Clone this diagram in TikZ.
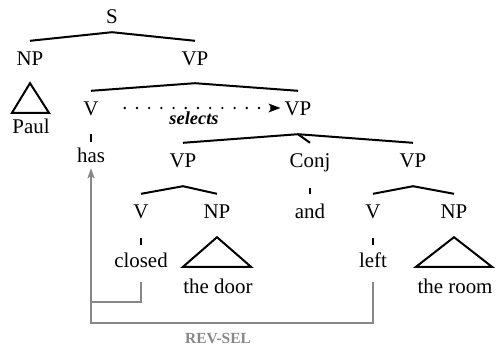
\documentclass[tikz,border=0pt]{standalone}
\usepackage{fontspec}
\setmainfont{Liberation Serif}
\usetikzlibrary{arrows.meta,calc}
\definecolor{selgray}{RGB}{135,135,135}
\tikzset{
  lab/.style={inner sep=0pt, text height=14bp, text depth=4bp, anchor=base, font=\fontsize{21}{25}\selectfont},
  branch/.style={line width=2bp, line join=miter},
  tick/.style={line width=2bp},
  tri/.style={line width=2bp, line join=miter},
  selarrow/.style={draw=selgray, line width=2bp, line join=miter},
  dotarrow/.style={line width=2.6bp, line cap=round, dash pattern=on 0bp off 12.2bp, -{Stealth[length=12bp,width=9bp,inset=3bp,line width=0pt]}}
}
\begin{document}
\begin{tikzpicture}[x=1bp,y=-1bp]
\useasboundingbox (0,0) rectangle (500,350);
% nodes
\node[lab] (S) at (112,23) {S};
\node[lab] (NP1) at (30,65) {NP};
\node[lab] (VP1) at (195,65) {VP};
\node[lab] (Paul) at (31,133) {Paul};
\node[lab] (V1) at (91,115) {V};
\node[lab] (VP2) at (298,115) {VP};
\node[lab] (has) at (91,162) {has};
\node[lab] (VP3) at (183,167) {VP};
\node[lab] (Conj) at (310,167) {Conj};
\node[lab] (VP4) at (413,167) {VP};
\node[lab] (V3) at (141,218) {V};
\node[lab] (NP3) at (217,218) {NP};
\node[lab] (and) at (310,218) {and};
\node[lab] (V4) at (373,218) {V};
\node[lab] (NP4) at (454,218) {NP};
\node[lab] (closed) at (141,267) {closed};
\node[lab] (door) at (218,293) {the door};
\node[lab] (left) at (373,267) {left};
\node[lab] (room) at (455,293) {the room};
\node[inner sep=0pt, anchor=base, font=\fontsize{18.5}{22}\selectfont\bfseries\itshape] (selects) at (194,124) {selects};
\node[inner sep=0pt, anchor=base, text=selgray, font=\fontsize{15.5}{18}\selectfont\bfseries] (revsel) at (218,343) {REV-SEL};
% apex coordinates
\coordinate (Sa) at ([yshift=-5bp]S.south);
\coordinate (VP1a) at ([yshift=-14bp]VP1.south);
\coordinate (VP2a) at ([yshift=-15bp]VP2.south);
\coordinate (VP3a) at ([yshift=-15bp]VP3.south);
\coordinate (VP4a) at ([yshift=-15bp]VP4.south);
% branches
\draw[branch] ([yshift=10bp]NP1.north) -- (Sa) -- ([yshift=10bp]VP1.north);
\draw[branch] ([yshift=10bp]V1.north) -- (VP1a) -- ([yshift=10bp]VP2.north);
\draw[branch] ([yshift=10bp]VP3.north) -- (VP2a) -- ([yshift=10bp]VP4.north);
\draw[branch] (VP2a) -- ([yshift=10bp]Conj.north);
\draw[branch] ([yshift=10bp]V3.north) -- (VP3a) -- ([yshift=10bp]NP3.north);
\draw[branch] ([yshift=10bp]V4.north) -- (VP4a) -- ([yshift=10bp]NP4.north);
% ticks
\draw[tick] ([yshift=-15bp]V1.south) -- ([yshift=6bp]has.north);
\draw[tick] ([yshift=-17bp]Conj.south) -- ([yshift=10bp]and.north);
\draw[tick] ([yshift=-16bp]V3.south) -- ([yshift=8bp]closed.north);
\draw[tick] ([yshift=-16bp]V4.south) -- ([yshift=8bp]left.north);
% triangles
\draw[tri] ([yshift=-14bp]NP1.south) -- ([xshift=-19bp,yshift=6bp]Paul.north) -- ([xshift=18bp,yshift=6bp]Paul.north) -- cycle;
\draw[tri] ([yshift=-15bp]NP3.south) -- ([xshift=-35bp,yshift=12bp]door.north) -- ([xshift=33bp,yshift=12bp]door.north) -- cycle;
\draw[tri] ([yshift=-15bp]NP4.south) -- ([xshift=-39bp,yshift=12bp]room.north) -- ([xshift=37bp,yshift=12bp]room.north) -- cycle;
% selects arrow
\draw[dotarrow] ([xshift=26bp,yshift=2bp]V1.east) -- ([xshift=-4bp,yshift=2bp]VP2.west);
% rev-sel arrows
\draw[selarrow] ([yshift=-11bp]closed.south) |- ($(has.south)+(0,136)$);
\draw[selarrow, -{Stealth[length=10bp,width=7bp,inset=2bp]}] ([yshift=-11bp]left.south) |- ($(has.south)+(0,157)$) -- ([yshift=-2bp]has.south);
\end{tikzpicture}
\end{document}
